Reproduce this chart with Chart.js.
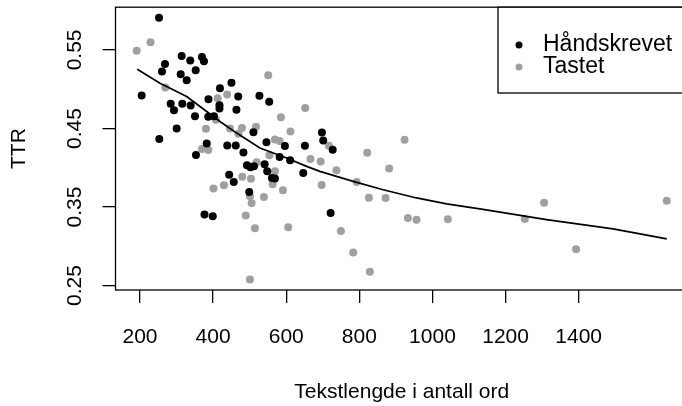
<!DOCTYPE html>
<html><head><meta charset="utf-8">
<script src="https://cdn.jsdelivr.net/npm/chart.js@4/dist/chart.umd.min.js"></script>
<style>
html,body{margin:0;padding:0;background:#fff;overflow:hidden;width:682px;height:406px}
#wrap{width:700px;height:406px;position:relative}
canvas{display:block}
</style>
</head><body><div id="wrap"><canvas id="c" width="700" height="406" style="width:700px;height:406px"></canvas></div>
<script>
// Data
const handskrevetX = [252,314,337.5,369.5,375,268.4,260.2,352.3,311.3,327.7,204.6,450.2,418.7,468.8,387.3,526.7,553.5,283.9,315.7,338.6,293,417.4,417.4,463.8,350.4,386.7,402.3,300.3,510.3,252.8,382.6,438.7,461.9,545.9,596.4,651.1,353.1,483,582,610.7,492.5,502.1,511.7,540.9,548,646.5,443.9,560.9,569.1,456.5,498.8,376.4,399,697.6,701.2,727.1,721.4];
const handskrevetY = [0.5911,0.5424,0.5364,0.5411,0.5356,0.5322,0.5224,0.5242,0.5191,0.5115,0.4919,0.5081,0.5011,0.4906,0.4871,0.4915,0.4839,0.4816,0.4814,0.4792,0.4731,0.4795,0.4754,0.4737,0.4655,0.4648,0.4655,0.4500,0.4451,0.4365,0.4308,0.4282,0.4282,0.4324,0.4276,0.4280,0.4162,0.4195,0.4136,0.4095,0.4032,0.4006,0.4019,0.4045,0.3956,0.3933,0.3909,0.3869,0.3864,0.3818,0.3691,0.3403,0.3381,0.4449,0.4347,0.4229,0.3424];
const tastetX = [191,228.7,269.2,438.4,412.4,550.8,651.9,585.5,407.8,380.5,446.1,478.9,517.2,611.5,469.3,569.1,582,369.5,386.7,554.1,666.2,694.1,519.1,569.1,479.7,503.5,429.7,401,562.8,591,696.8,500.8,539,505.4,489.3,514.4,605.5,500.8,716.7,737.3,821.5,923.7,881.6,792.5,826.1,871.8,749.6,783.2,828.8,932.7,956.5,1042.1,1305.4,1252.6,1392.9,1640.9];
const tastetY = [0.5490,0.5598,0.5020,0.4932,0.4884,0.5178,0.4760,0.4642,0.4610,0.4496,0.4498,0.4505,0.4521,0.4461,0.4432,0.4360,0.4341,0.4239,0.4225,0.4159,0.4112,0.4079,0.4070,0.3956,0.3886,0.3860,0.3778,0.3736,0.3788,0.3712,0.3780,0.3638,0.3628,0.3551,0.3392,0.3229,0.3241,0.2576,0.4280,0.3968,0.4191,0.4356,0.3991,0.3818,0.3619,0.3615,0.3195,0.2920,0.2674,0.3361,0.3339,0.3343,0.3555,0.3348,0.2962,0.3581];
const trendX = [192.6,254.7,327.7,382.4,418.7,464.4,528.1,601.1,655.8,692.1,783.2,865.2,956.5,1038.6,1129.6,1312,1494,1641];
const trendY = [0.5255,0.5077,0.4906,0.4716,0.4589,0.4441,0.4251,0.4123,0.4017,0.3953,0.3826,0.3720,0.3615,0.3539,0.3475,0.3339,0.3221,0.3094];
const xTicks = [200,400,600,800,1000,1200,1400];
const yTicks = [0.25,0.30,0.35,0.40,0.45,0.50,0.55,0.60];
const yTickLabels = ['0.25','','0.35','','0.45','','0.55',''];
const seriesNames = ['Håndskrevet','Tastet'];
const seriesColors = ['#000000','#a0a0a0'];
const xTitle = 'Tekstlengde i antall ord';
const yTitle = 'TTR';

const FONT = "'Liberation Sans', Arial, sans-serif";
const toPts = (xs, ys) => xs.map((x, i) => ({x: x, y: ys[i]}));

const boxPlugin = {
  id: 'box',
  afterDraw(chart) {
    const {ctx, chartArea: a} = chart;
    ctx.save();
    ctx.strokeStyle = '#000';
    ctx.lineWidth = 1.3;
    ctx.strokeRect(a.left, a.top, a.right - a.left, a.bottom - a.top);
    // legend
    const lx = 498, ly = a.top, lh = 93 - a.top;
    ctx.fillStyle = '#fff';
    ctx.fillRect(lx, ly, 720 - lx, lh);
    ctx.strokeRect(lx, ly, 720 - lx, lh);
    const rows = [45, 67];
    ctx.font = '23px ' + FONT;
    ctx.textBaseline = 'middle';
    ctx.textAlign = 'left';
    seriesNames.forEach((n, i) => {
      ctx.fillStyle = seriesColors[i];
      ctx.beginPath();
      ctx.arc(519, rows[i], 3.5, 0, Math.PI * 2);
      ctx.fill();
      ctx.fillStyle = '#000';
      ctx.fillText(n, 543, rows[i]);
    });
    ctx.restore();
  }
};

new Chart(document.getElementById('c'), {
  data: {
    datasets: [
      {type: 'line', label: 'trend', data: toPts(trendX, trendY), borderColor: '#000', borderWidth: 1.7, pointRadius: 0, fill: false, tension: 0, order: 0},
      {type: 'scatter', label: seriesNames[0], data: toPts(handskrevetX, handskrevetY), backgroundColor: seriesColors[0], borderWidth: 0, pointRadius: 4, order: 1},
      {type: 'scatter', label: seriesNames[1], data: toPts(tastetX, tastetY), backgroundColor: seriesColors[1], borderWidth: 0, pointRadius: 4, order: 2}
    ]
  },
  options: {
    responsive: false,
    animation: false,
    devicePixelRatio: 1,
    layout: {padding: {top: 7.2, right: 12, left: 0, bottom: 0}},
    plugins: {legend: {display: false}, tooltip: {enabled: false}},
    scales: {
      x: {
        type: 'linear', min: 133, max: 1699,
        afterBuildTicks: s => { s.ticks = xTicks.map(v => ({value: v})); },
        afterFit: s => { s.height = 116; s.paddingLeft = 0; s.paddingRight = 0; s.paddingTop = 0; s.paddingBottom = 0; },
        grid: {drawOnChartArea: false, drawTicks: true, tickLength: 13, color: '#000', lineWidth: 1.3},
        border: {display: false},
        ticks: {color: '#000', font: {family: FONT, size: 21}, padding: 22, maxRotation: 0, minRotation: 0, callback: v => String(v)},
        title: {display: true, text: xTitle, color: '#000', font: {family: FONT, size: 21}, padding: {top: 0, bottom: 1}}
      },
      y: {
        type: 'linear', min: 0.2443, max: 0.6044,
        afterBuildTicks: s => { s.ticks = yTicks.map(v => ({value: v})); },
        afterFit: s => { s.width = 115.5; s.paddingTop = 0; s.paddingBottom = 0; s.paddingLeft = 0; s.paddingRight = 0; },
        grid: {drawOnChartArea: false, drawTicks: true, tickLength: 13, color: '#000', lineWidth: 1.3},
        border: {display: false},
        ticks: {color: '#000', font: {family: FONT, size: 21}, padding: 7, minRotation: 90, maxRotation: 90, crossAlign: 'center',
          callback: (v, i) => yTickLabels[i]},
        title: {display: true, text: yTitle, color: '#000', font: {family: FONT, size: 21}, padding: {top: 7, bottom: 0}}
      }
    }
  },
  plugins: [boxPlugin]
});
</script>
</body></html>
